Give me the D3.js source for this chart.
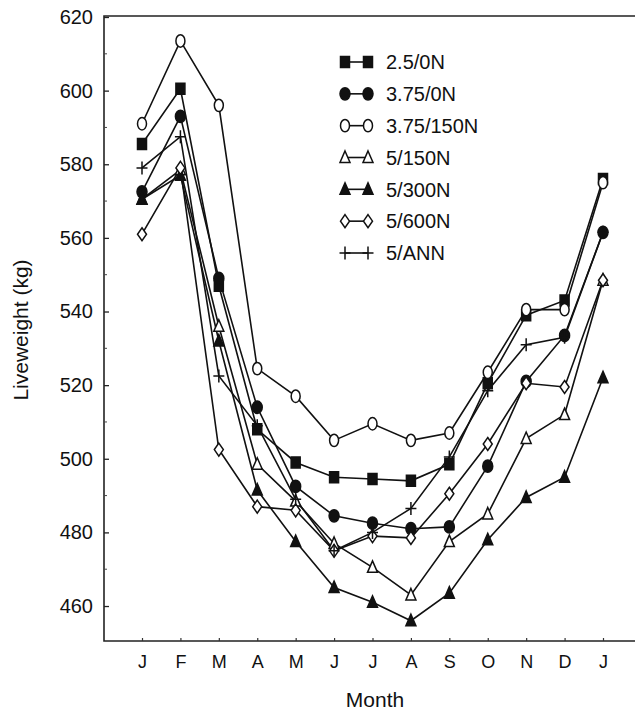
<!DOCTYPE html>
<html>
<head>
<meta charset="utf-8">
<script src="https://cdn.jsdelivr.net/npm/d3@7"></script>
<style>
  body { margin: 0; background: #fff; }
  svg { display: block; font-family: "Liberation Sans", Arial, sans-serif; }
</style>
</head>
<body>
<svg width="635" height="710"></svg>
<script>
// month labels along the bottom (Jan to Jan)
var months = ["J","F","M","A","M","J","J","A","S","O","N","D","J"];
var yTicks = [460, 480, 500, 520, 540, 560, 580, 600, 620];
var yMinor = [470, 490, 510, 530, 550, 570, 590, 610];

var names = ["2.5/0N", "3.75/0N", "3.75/150N", "5/150N", "5/300N", "5/600N", "5/ANN"];
var kinds = ["square", "dot", "circle", "triangle", "triFill", "diamond", "plus"];

var s_25_0   = [585.5, 600.5, 547, 508, 499, 495, 494.5, 494, 498.5, 520.5, 539, 543, 576];
var s_375_0  = [572.5, 593, 549, 514, 492.5, 484.5, 482.5, 481, 481.5, 498, 521, 533.5, 561.5];
var s_375_150= [591, 613.5, 596, 524.5, 517, 505, 509.5, 505, 507, 523.5, 540.5, 540.5, 575];
var s_5_150  = [570.5, 578.5, 536, 498.5, 488.5, 477, 470.5, 463, 477.5, 485, 505.5, 512, 548.5];
var s_5_300  = [570.5, 577, 532, 491.5, 477.5, 465, 461, 456, 463.5, 478, 489.5, 495, 522];
var s_5_600  = [561, 579, 502.5, 487, 486, 475, 479, 478.5, 490.5, 504, 520.5, 519.5, 548.5];
var s_5_ann  = [579, 587.5, 522.5, 509, 489, 475, 480, 486.5, 500.5, 518.5, 531, 533, 561.5];

var allSeries = [s_25_0, s_375_0, s_375_150, s_5_150, s_5_300, s_5_600, s_5_ann];

var svg = d3.select("svg");
var pL = 104, pT = 16, pR = 635, pB = 641;

var idx = d3.range(months.length);
var scX = d3.scalePoint().domain(idx).range([142, 603]);
var scY = d3.scaleLinear().domain([450.5, 620]).range([pB, 17]);

// frame: top, left, bottom (no right side)
svg.append("path")
    .attr("d", "M" + pR + "," + pT + "H" + pL + "V" + pB + "H" + pR)
    .attr("fill", "none").attr("stroke", "#222").attr("stroke-width", 1.6);

// y axis
var yAxis = svg.append("g").attr("transform", "translate(" + pL + ",0)")
    .call(d3.axisLeft(scY).tickValues(yTicks).tickSize(-5).tickPadding(11).tickFormat(d3.format("d")));
yAxis.select(".domain").remove();
yAxis.selectAll("line").attr("stroke", "#222").attr("stroke-width", 1.3);
yAxis.selectAll("text").attr("font-size", 20).attr("fill", "#111").attr("font-family", null);

svg.append("g").selectAll("line").data(yMinor).enter().append("line")
    .attr("x1", pL).attr("x2", pL + 3)
    .attr("y1", d => scY(d)).attr("y2", d => scY(d))
    .attr("stroke", "#444").attr("stroke-width", 1);

// x axis
var xAxis = svg.append("g").attr("transform", "translate(0," + pB + ")")
    .call(d3.axisBottom(scX).tickSize(-3).tickPadding(14).tickFormat(i => months[i]));
xAxis.select(".domain").remove();
xAxis.selectAll("line").attr("stroke", "#333").attr("stroke-width", 1.2);
xAxis.selectAll("text").attr("font-size", 18).attr("fill", "#111").attr("font-family", null);

// axis titles
svg.append("text").attr("x", 375).attr("y", 707).attr("text-anchor", "middle")
    .attr("font-size", 21).attr("fill", "#111").text("Month");
svg.append("text").attr("transform", "translate(28,330) rotate(-90)").attr("text-anchor", "middle")
    .attr("font-size", 21).attr("fill", "#111").text("Liveweight (kg)");

// marker drawing
function marker(g, kind) {
    if (kind == "dot" || kind == "circle") {
        g.append("ellipse").attr("rx", kind == "dot" ? 5 : 4.5).attr("ry", 6.2)
            .attr("fill", kind == "dot" ? "#111" : "#fff")
            .attr("stroke", "#111").attr("stroke-width", 1.5);
        return;
    }
    var d = {
        square:   "M-4.5,-5.5h9v11h-9Z",
        triangle: "M0,-6.5L5,5L-5,5Z",
        triFill:  "M0,-6.5L5,5L-5,5Z",
        diamond:  "M0,-6.5L4.5,0L0,6.5L-4.5,0Z",
        plus:     "M-5.5,0H5.5M0,-6.5V6.5"
    }[kind];
    var filled = (kind == "square" || kind == "triFill");
    g.append("path").attr("d", d)
        .attr("fill", filled ? "#111" : (kind == "plus" ? "none" : "#fff"))
        .attr("stroke", "#111").attr("stroke-width", 1.5);
}

var lineMaker = d3.line().x((d, i) => scX(i)).y(d => scY(d));

svg.append("g").selectAll("path").data(allSeries).enter().append("path")
    .attr("fill", "none").attr("stroke", "#111").attr("stroke-width", 1.6)
    .attr("d", d => lineMaker(d));

allSeries.forEach(function(vals, k) {
    svg.append("g").selectAll("g").data(vals).enter().append("g")
        .attr("transform", (d, i) => "translate(" + scX(i) + "," + scY(d) + ")")
        .each(function() { marker(d3.select(this), kinds[k]); });
});

// legend
var scL = d3.scalePoint().domain(names).range([62, 253]);
var leg = svg.append("g").selectAll("g").data(names).enter().append("g")
    .attr("transform", d => "translate(0," + scL(d) + ")");
leg.append("line").attr("x1", 345).attr("x2", 368).attr("stroke", "#111").attr("stroke-width", 1.6);
leg.each(function(d, k) {
    var g = d3.select(this);
    marker(g.append("g").attr("transform", "translate(345,0)"), kinds[k]);
    marker(g.append("g").attr("transform", "translate(368,0)"), kinds[k]);
});
leg.append("text").attr("x", 386).attr("dy", "0.36em")
    .attr("font-size", 20).attr("fill", "#111").text(d => d);
</script>
</body>
</html>
